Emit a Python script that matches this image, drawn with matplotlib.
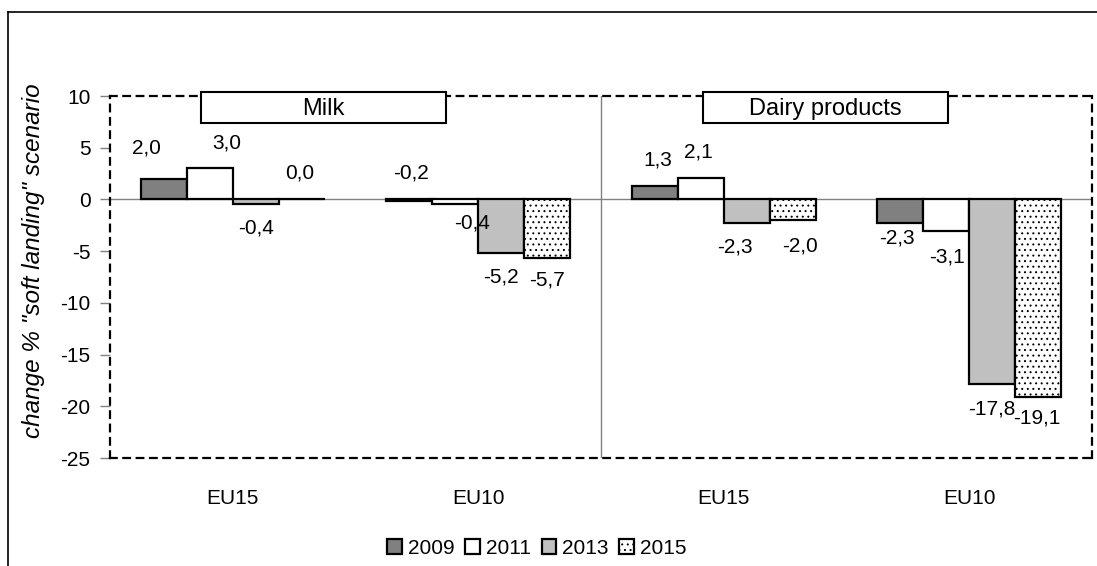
import matplotlib
matplotlib.use("Agg")
import matplotlib.pyplot as plt
import numpy as np
from matplotlib.patches import Rectangle
from matplotlib.lines import Line2D

plt.rcParams['font.family'] = ['Liberation Sans', 'DejaVu Sans']
plt.rcParams['axes.unicode_minus'] = False
plt.rcParams['hatch.color'] = '#a0a0a0'
plt.rcParams['hatch.linewidth'] = 0.7

# data
categories = ['EU15', 'EU10', 'EU15', 'EU10']
years = ['2009', '2011', '2013', '2015']
v2009 = [2.0, -0.2, 1.3, -2.3]
v2011 = [3.0, -0.4, 2.1, -3.1]
v2013 = [-0.4, -5.2, -2.3, -17.8]
v2015 = [0.0, -5.7, -2.0, -19.1]
panels = ['Milk', 'Dairy products']

series = [v2009, v2011, v2013, v2015]
colors = ['#808080', 'white', '#c0c0c0', 'white']
hatches = [None, None, None, '...']

# label nudges in pixels (dx, dy) per group / year
nudges = [
    [(-17, 31), (17, 25), (0, -24), (-2, 26)],
    [(2, 28), (17, -19), (0, -24), (0, -22)],
    [(3, 26), (-2, 26), (-12, -24), (7, -26)],
    [(-3, -15), (1, -26), (0, -25), (-1, -21)],
]

fig = plt.figure(figsize=(10.97, 5.66), dpi=100)
ax = fig.add_axes([110/1097, 108/566, 982/1097, 362/566])

x = np.arange(len(categories))
w = 0.1875
for i, (vals, c, h, yr) in enumerate(zip(series, colors, hatches, years)):
    pos = x + (i - 1.5) * w
    ax.bar(pos, vals, w, color=c, edgecolor='black', linewidth=1.6,
           hatch=h, label=yr, zorder=3)
    for g, (p, v) in enumerate(zip(pos, vals)):
        dx, dy = nudges[g][i]
        ax.annotate(f"{v:.1f}".replace('.', ','), (p, v),
                    xytext=(dx, dy), textcoords='offset pixels',
                    ha='center', va='center', fontsize=15, zorder=5)

ax.axhline(0, color='#808080', lw=1, zorder=2)
ax.axvline(1.5, color='#808080', lw=1, zorder=2)

ax.set_xlim(-0.5, 3.5)
ax.set_ylim(-25, 10)
ax.set_yticks(np.arange(-25, 11, 5))
ax.set_xticks(x)
ax.set_xticklabels(categories)
ax.tick_params(axis='x', length=0, pad=22, labelsize=15)
ax.tick_params(axis='y', length=7, width=1, color='#808080', pad=7, labelsize=15)
for s in ax.spines.values():
    s.set_linestyle((0, (3, 3)))
    s.set_linewidth(1.6)
ax.set_ylabel('change % "soft landing" scenario', fontstyle='italic',
              fontsize=17.5)
ax.yaxis.set_label_coords(-0.066, 0.545)

# panel title boxes
for k, name in enumerate(panels):
    x0 = [201, 703][k]
    fig.add_artist(Rectangle((x0/1097, 443/566), 245/1097, 31/566,
                             transform=fig.transFigure, facecolor='white',
                             edgecolor='black', lw=1.5, zorder=10))
    fig.text((x0 + 122.5)/1097, 457/566, name, ha='center', va='center',
             fontsize=17, zorder=11)

# outer chart border (top and left only)
fig.add_artist(Line2D([8/1097, 1], [554/566, 554/566], color='black', lw=1.2))
fig.add_artist(Line2D([8/1097, 8/1097], [0, 554/566], color='black', lw=1.2))

leg = fig.legend(loc='center', bbox_to_anchor=(537/1097, 18/566), ncol=4,
                 frameon=False, fontsize=15, handlelength=0.7,
                 handleheight=0.7, handletextpad=0.3, columnspacing=0.5)

fig.savefig('out.png', dpi=100)
